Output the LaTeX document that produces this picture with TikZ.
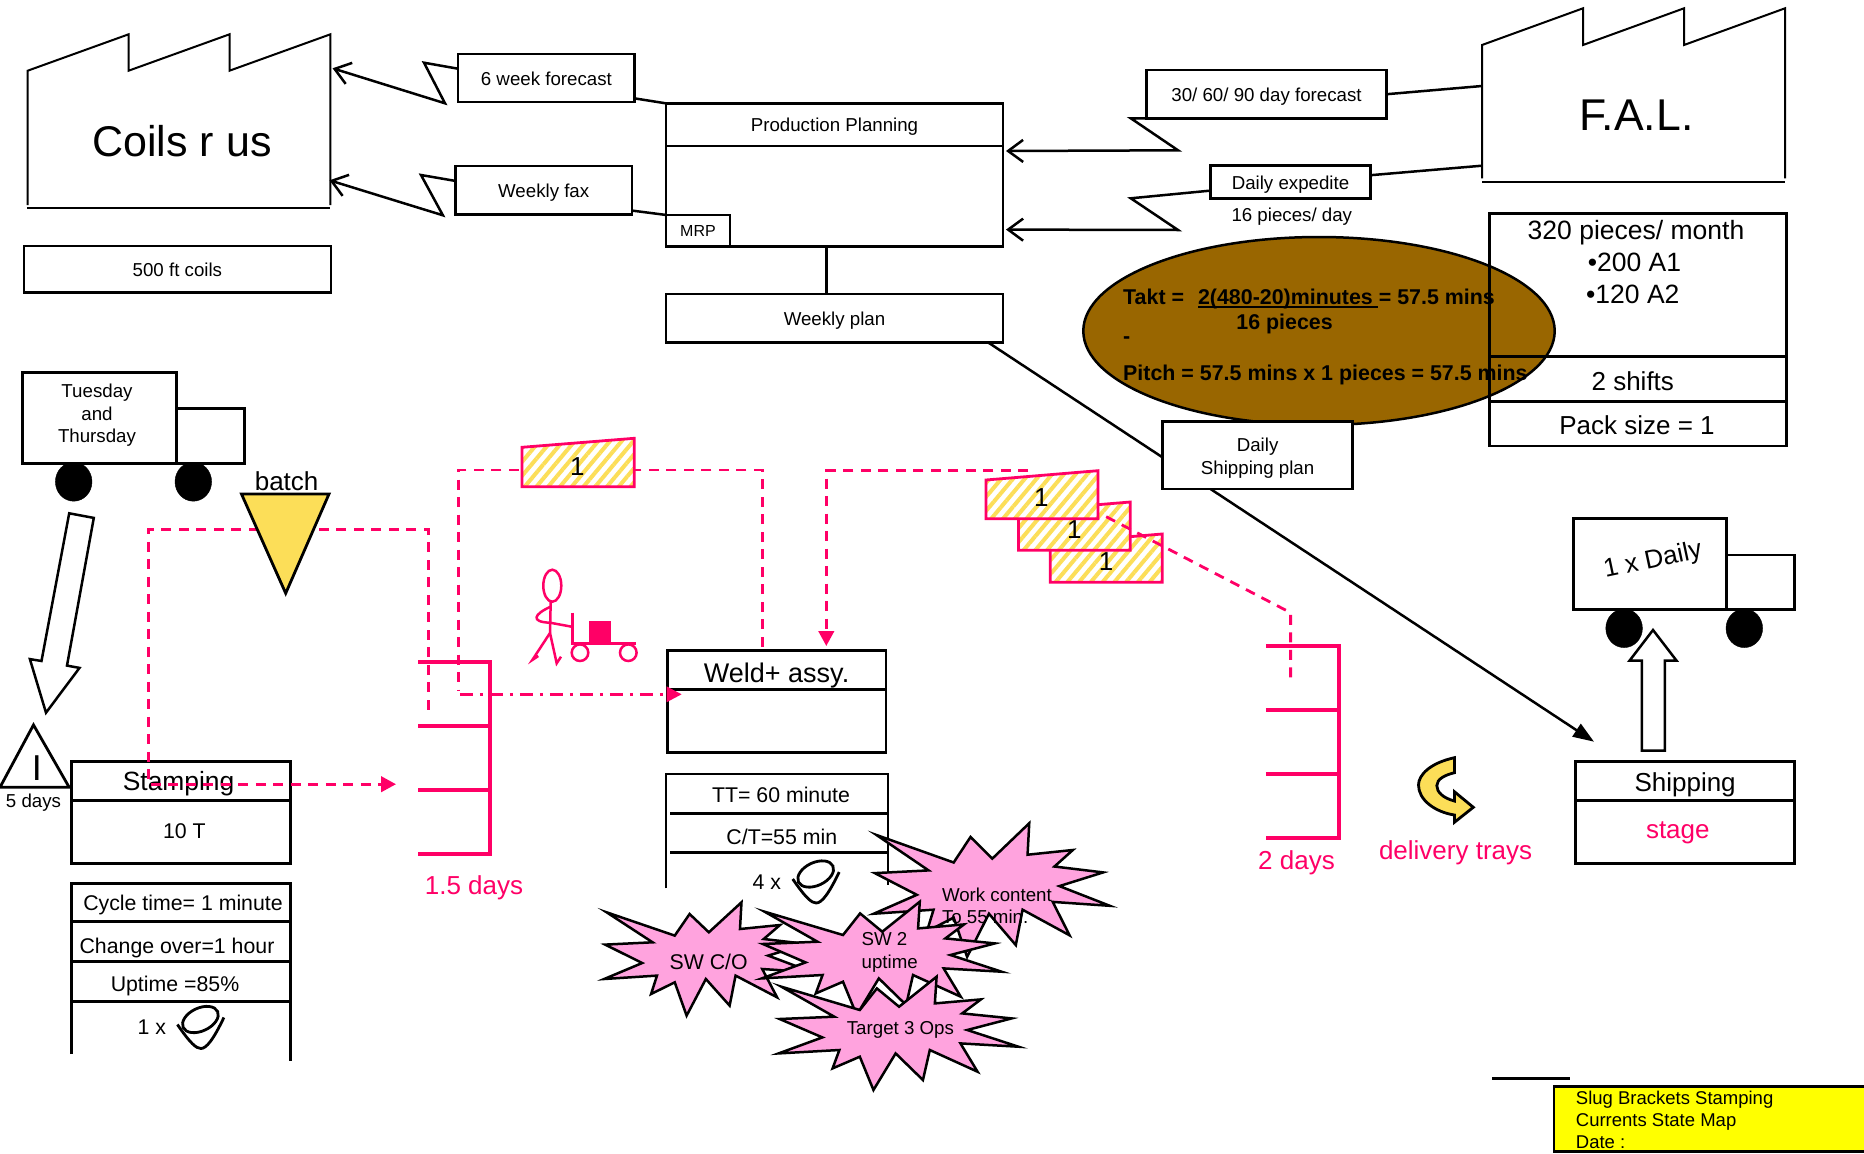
\documentclass[tikz,border=0pt]{standalone}
\usepackage{fontspec}
\setmainfont{Liberation Sans}
\usepackage{xcolor}
\usetikzlibrary{arrows.meta, positioning, patterns.meta, shapes.geometric}
\definecolor{flowpink}{RGB}{255,0,102}
\definecolor{traygold}{RGB}{252,222,88}
\definecolor{burstfill}{RGB}{255,163,222}
\definecolor{taktbrown}{RGB}{153,102,0}
\definecolor{titlefill}{RGB}{255,255,0}
\newcommand{\burstpath}{(0,0) -- (55.4,30) -- (-1.8,32.3) -- (42.9,50.7) -- (-2.9,66.7) -- (60.7,63.3) -- (53.6,81.7) -- (82.1,70) -- (96.4,103.3) -- (119.6,66.7) -- (148.2,93.3) -- (155.4,63.3) -- (205.4,85) -- (187.5,56.7) -- (248.2,60) -- (194.6,43.3) -- (241.1,31.7) -- (189.3,26.7) -- (208.9,12.7) -- (160.7,16.7) -- (162.5,-10) -- (123.2,20) -- (100,1.7) -- (82.1,23.3) -- cycle}
\tikzset{
    block/.style={
        rectangle,
        draw=black,
        line width=2.8pt,
        inner sep=0pt,
        outer sep=0pt,
        align=center,
        text height=14pt,
        text depth=0pt,
        font=\fontsize{18.7}{22.6}\selectfont
    },
    bigblock/.style={
        block,
        text height=20pt,
        font=\fontsize{26}{30}\selectfont
    },
    smalltext/.style={
        inner sep=0pt,
        align=center,
        font=\fontsize{18.7}{22.4}\selectfont
    },
    midtext/.style={
        inner sep=0pt,
        align=center,
        font=\fontsize{21.3}{25}\selectfont
    },
    bigtext/.style={
        inner sep=0pt,
        align=center,
        font=\fontsize{26}{30}\selectfont
    },
    pinktext/.style={
        bigtext,
        text=flowpink
    },
    hugetext/.style={
        inner sep=0pt,
        font=\fontsize{43}{48}\selectfont
    },
    takttext/.style={
        inner sep=0pt,
        anchor=west,
        font=\fontsize{21.4}{25}\selectfont\bfseries
    },
    outline/.style={
        draw=black,
        line width=2.8pt
    },
    factory/.style={
        draw=black,
        line width=2pt
    },
    connection/.style={
        draw=black,
        line width=2.5pt,
        -{Straight Barb[length=15pt,width=22pt,line width=2.5pt]}
    },
    plainline/.style={
        draw=black,
        line width=2.5pt
    },
    shipline/.style={
        draw=black,
        line width=2.5pt,
        -{Triangle[length=21pt,width=15pt]}
    },
    signal/.style={
        draw=flowpink,
        line width=2.8pt,
        dash pattern=on 10pt off 7.5pt
    },
    withdraw/.style={
        signal,
        -{Triangle[length=15pt,width=15.5pt]}
    },
    pushline/.style={
        draw=flowpink,
        line width=2.8pt,
        dash pattern=on 13pt off 7pt on 3pt off 7pt,
        -{Triangle[length=15pt,width=15pt]}
    },
    buffer/.style={
        draw=flowpink,
        line width=4.5pt
    },
    kanban/.style={
        draw=flowpink,
        line width=2.8pt,
        preaction={fill=white},
        pattern={Lines[angle=50,distance=9pt,line width=4pt]},
        pattern color=traygold
    },
    burst/.style={
        draw=black,
        line width=2.5pt,
        fill=burstfill,
        line join=miter
    },
    fatarrow/.style={
        draw=black,
        line width=2.5pt,
        fill=white
    },
    wheel/.style={
        fill=black
    },
    figure/.style={
        draw=flowpink,
        line width=2.5pt
    },
    operator/.pic={
        \draw[outline] (0,0) ellipse [x radius=19pt, y radius=11.5pt, rotate=25];
        \draw[outline] (-23,5) .. controls (-10,24) and (-4,29) .. (0.5,29) .. controls (6,29) and (13,20) .. (23.5,-2);
    }
}

\begin{document}
\begin{tikzpicture}[x=1pt, y=-1pt]
\useasboundingbox (0,0) rectangle (1864,1154);

% Takt bubble
\node[ellipse, draw=black, line width=2.5pt, fill=taktbrown, minimum width=471.4, minimum height=188, inner sep=0pt] (takt) at (1319,331) {};

% Suppliers and customers
\draw[factory] (27.7,205) -- (27.7,70.7) -- (128.6,34.3) -- (128.6,70.7) -- (229.5,34.3) -- (229.5,70.7) -- (330.4,34.3) -- (330.4,205);
\draw[factory] (26.8,208) -- (330.4,208);
\node[hugetext] (coils) at (182,141) {Coils r us};
\draw[factory] (1482,178.3) -- (1482,45) -- (1583,8.3) -- (1583,45) -- (1684,8.3) -- (1684,45) -- (1785,8.3) -- (1785,178.3);
\draw[factory] (1482,182.3) -- (1785,182.3);
\node[hugetext, font=\fontsize{44.5}{50}\selectfont] (fal) at (1636.5,115) {F.A.L.};
\coordinate (coils_fc) at (332.6,68.3);
\coordinate (coils_fax) at (329.5,180.3);
\coordinate (fal_fc) at (1482,86);
\coordinate (fal_exp) at (1482,165.7);

% Info boxes
\node[block, minimum width=307, minimum height=46.7] (coil_size) at (177.4,269.3) {500 ft coils};
\node[block, minimum width=296.5, minimum height=143.4] (month_box) at (1638,285) {};
\node[bigblock, minimum width=296.5, minimum height=45, below=0pt of month_box] (shift_box) {};
\node[bigblock, minimum width=296.5, minimum height=44.3, below=0pt of shift_box] (pack_box) {};
\node[bigtext, font=\fontsize{26.5}{30}\selectfont] (month_txt) at (1636,233) {320 pieces/ month};
\node[bigtext, font=\fontsize{26.5}{30}\selectfont] (a1_txt) at (1634.4,262) {•200 A1};
\node[bigtext, font=\fontsize{26.5}{30}\selectfont] (a2_txt) at (1632.8,294.5) {•120 A2};
\node[bigtext] (shift_txt) at (1632.8,381) {2 shifts};
\node[bigtext] (pack_txt) at (1637,425) {Pack size = 1};

% Takt text
\node[takttext] (takt_line) at (1123,299) {Takt =\hspace{14pt}\rlap{\rule[-3pt]{180pt}{1.8pt}}2(480-20)minutes\ = 57.5 mins};
\node[takttext, anchor=center] (takt_under) at (1284.6,324.4) {16 pieces};
\node[takttext, anchor=center] (takt_dash) at (1126.7,340.5) {-};
\node[takttext] (pitch_line) at (1123,375) {Pitch = 57.5 mins x 1 pieces = 57.5 mins};

% Planning
\node[block, minimum width=337, minimum height=42.7] (prod_head) at (834.5,124.7) {Production Planning};
\node[block, minimum width=337, minimum height=100.5, below=0pt of prod_head] (prod_body) {};
\node[block, text height=11.5pt, font=\fontsize{16}{19}\selectfont, minimum width=64, minimum height=31.7] (mrp) at (698,230.8) {MRP};
\node[block, minimum width=337, minimum height=48.3] (weekly_plan) at (834.5,318.2) {Weekly plan};
\node[block, minimum width=176.8, minimum height=48] (six_week) at (546.4,78) {6 week forecast};
\node[block, minimum width=176.6, minimum height=48.3] (weekly_fax) at (543.7,190.2) {Weekly fax};
\node[block, minimum width=240.5, minimum height=48.3] (forecast) at (1266.5,94.2) {30/ 60/ 90 day forecast};
\node[block, minimum width=160.5, minimum height=33] (expedite) at (1290.5,182.2) {Daily expedite};
\node[smalltext] (pieces_day) at (1291.8,216.5) {16 pieces/ day};
\coordinate (prod_fc) at (1006,151);
\coordinate (prod_exp) at (1006,229.6);
\coordinate (ship_in) at (1594,741.7);

% Planning connections
\draw[plainline] (six_week.-13) -- (prod_head.north west);
\draw[plainline] (weekly_fax.-13) -- (mrp.north west);
\draw[connection] (six_week.174) -- (424,62.7) -- (445,103.3) -- (coils_fc);
\draw[connection] (weekly_fax.174) -- (421,175) -- (442.9,215.3) -- (coils_fax);
\draw[plainline] (forecast.east) -- (fal_fc);
\draw[plainline] (expedite.5) -- (fal_exp);
\draw[connection] (forecast.south west) -- (1130.8,118.3) -- (1178,150.3) -- (prod_fc);
\draw[connection] (expedite.-174) -- (1130.8,198.3) -- (1178,230) -- (prod_exp);
\draw[plainline] ([xshift=-8pt]prod_body.south) -- ([xshift=-8pt]weekly_plan.north);
\draw[shipline] ([xshift=-15pt]weekly_plan.south east) -- (ship_in);
\node[block, fill=white, minimum width=189.8, minimum height=67.3] (ship_plan) at (1257.6,455.3) {};
\node[smalltext] (ship_plan_txt) at (1257.6,458) {Daily\\Shipping plan};

% Trucks
\node[block, minimum width=154, minimum height=91] (truck_in) at (99.3,417.8) {};
\node[smalltext] (truck_in_txt) at (97,415.4) {Tuesday\\and\\Thursday};
\node[block, minimum width=68.3, minimum height=54.6] (truck_in_cab) at (210.5,436) {};
\draw[wheel] (73.7,481.7) ellipse [x radius=18.3, y radius=19.5];
\draw[wheel] (193.3,481.7) ellipse [x radius=18.3, y radius=19.5];
\node[block, minimum width=153.2, minimum height=91] (truck_out) at (1650.1,563.8) {};
\node[block, minimum width=67.8, minimum height=54.3] (truck_out_cab) at (1760.6,582.2) {};
\node[bigtext, rotate=12] (truck_out_txt) at (1653,561) {1 x Daily};
\draw[wheel] (1624.1,628.3) ellipse [x radius=18.3, y radius=19.3];
\draw[wheel] (1744.3,628.3) ellipse [x radius=18.3, y radius=19.3];

% Process boxes
\node[bigblock, minimum width=218.8, minimum height=39.4] (stamp_head) at (180.8,781) {};
\node[midtext] (stamp_txt) at (178.6,783.8) {\fontsize{26.4}{30}\selectfont Stamping};
\node[block, minimum width=218.8, minimum height=62.7, below=0pt of stamp_head] (stamp_body) {};
\node[midtext] (stamp_ton) at (184.4,831.5) {10 T};
\node[bigblock, text height=25.4pt, font=\fontsize{27}{31}\selectfont, minimum width=218.7, minimum height=38.6] (weld_head) at (776.6,670) {Weld+ assy.};
\node[block, minimum width=218.7, minimum height=63.2, below=0pt of weld_head] (weld_body) {};
\node[bigblock, minimum width=218.6, minimum height=39] (ship_head) at (1685.1,781.2) {Shipping};
\node[block, minimum width=218.6, minimum height=62.6, below=0pt of ship_head] (ship_body) {};
\node[pinktext] (ship_stage) at (1677.8,832.5) {stage};

% Data boxes
\draw[outline] (71.4,1054) -- (71.4,883.3) -- (290.2,883.3) -- (290.2,1060.9);
\draw[outline] (71.4,921.6) -- (290.2,921.6);
\draw[outline] (71.4,961.4) -- (290.2,961.4);
\draw[outline] (71.4,1001.2) -- (290.2,1001.2);
\node[midtext] (cycle_txt) at (183,905) {Cycle time= 1 minute};
\node[midtext] (change_txt) at (177,947.5) {Change over=1 hour};
\node[midtext] (uptime_txt) at (175,985.5) {Uptime =85\%};
\node[midtext] (ops_stamp) at (151.8,1027) {1 x};
\pic at (200.4,1019.5) {operator};
\draw[outline] (666,888.3) -- (666,774) -- (887.9,774) -- (887.9,885);
\draw[outline] (670,813.3) -- (887.9,813.3);
\draw[outline] (670,852.3) -- (887.9,852.3);
\node[midtext] (takt_weld) at (781,795) {TT= 60 minute};
\node[midtext] (cycle_weld) at (781.8,836.7) {C/T=55 min};
\node[midtext] (ops_weld) at (766.8,881.7) {4 x};
\pic at (815.7,874) {operator};

% Inventory
\node[smalltext] (days_inv) at (33.5,802.6) {5 days};
\draw[outline, fill=white] (33.5,724.9) -- (69.2,787.3) -- (0,787.3) -- cycle;
\node[inner sep=0pt, font=\fontsize{36}{40}\selectfont] (inv_mark) at (37,767.8) {I};
\draw[buffer] (418.3,661.8) -| (490.2,853.9) -- (418.3,853.9);
\draw[buffer] (418.3,726) -- (490.2,726);
\draw[buffer] (418.3,790) -- (490.2,790);
\node[pinktext] (days_weld) at (474,887.7) {1.5 days};
\draw[buffer] (1265.9,646) -| (1339,838) -- (1265.9,838);
\draw[buffer] (1265.9,710) -- (1339,710);
\draw[buffer] (1265.9,774) -- (1339,774);
\node[pinktext] (days_ship) at (1296.5,862.9) {2 days};
\coordinate (buf1_mark) at (428.6,709.6);
\coordinate (buf1_in) at (396,784.2);
\coordinate (loop1_corner) at (148.2,529.7);
\coordinate (buf1_drop) at (458.5,690.5);
\coordinate (loop2_corner) at (458.5,470);
\coordinate (push_start) at (459.8,694.3);
\coordinate (weld_side) at (681.7,694.3);
\coordinate (weld_top) at (826.3,646);
\coordinate (tray_top) at (1028.4,470.7);
\coordinate (tray_low) at (1106.2,516.7);
\coordinate (loop3_corner) at (1290.6,612.7);
\coordinate (buf2_mark) at (1290.6,678.3);

% Kanban loops
\draw[withdraw] (buf1_mark) |- (loop1_corner) |- (buf1_in);
\draw[signal] ([shift={(-14.5pt,4pt)}]weld_head.north) |- (loop2_corner) -- (buf1_drop);
\draw[pushline] (push_start) -- (weld_side);
\draw[withdraw] (tray_top) -| (weld_top);

% Kanban cards
\draw[kanban] (522,447.3) -- (634.3,438.3) -- (634.3,486.7) -- (522,486.7) -- cycle;
\node[bigtext] (card_weld) at (577.3,467) {1};
\draw[kanban] (1050.2,543.3) -- (1162.2,534) -- (1162.2,582.3) -- (1050.2,582.3) -- cycle;
\node[bigtext] (card_c) at (1106.2,562) {1};
\draw[kanban] (1018.4,511.3) -- (1130.3,502) -- (1130.3,550.3) -- (1018.4,550.3) -- cycle;
\node[bigtext] (card_b) at (1074.4,530) {1};
\draw[kanban] (986,480) -- (1097.9,470.7) -- (1097.9,518.7) -- (986,518.7) -- cycle;
\node[bigtext] (card_a) at (1041.4,497.7) {1};
\draw[signal] (tray_low) -- (loop3_corner) -- (buf2_mark);

% Batch triangle
\draw[outline, fill=traygold] (241.5,494) -- (329,494) -- (285.7,593.3) -- cycle;
\node[bigtext] (batch) at (286.6,481.7) {batch};

% Shipment arrows
\draw[fatarrow] (69.2,513.3) -- (93.8,517.9) -- (67,665.6) -- (79.5,667.9) -- (46,712.7) -- (29.9,659.1) -- (41.5,661) -- cycle;
\draw[fatarrow] (1641.8,750.7) -- (1664.8,750.7) -- (1664.8,660.7) -- (1676.6,660.7) -- (1653,630) -- (1629.5,660.7) -- (1641.8,660.7) -- cycle;

% Operator with cart
\draw[figure] (552.3,585.7) ellipse [x radius=9, y radius=16];
\draw[figure] (550.7,601.7) -- (550,633);
\draw[figure] (550.7,606.7) .. controls (534,614) and (530,622) .. (550,622.7) -- (571.7,626.7);
\draw[figure] (550,633) -- (532.3,660) -- (538.3,656);
\draw[figure] (550,633) -- (556.7,663.3) -- (561,656.7);
\draw[figure] (572.3,612.7) -- (572.3,643.3) -- (636,643.3);
\fill[flowpink] (589,621) rectangle (610.7,643.3);
\draw[figure] (580,652.7) circle [radius=8.3];
\draw[figure] (628.3,652.7) circle [radius=8.3];

% Trays
\draw[outline, fill=traygold] (1454.4,757.7) .. controls (1430,763) and (1418.5,775) .. (1418.5,785) .. controls (1418.5,800) and (1435,812) .. (1454.4,815) -- (1454.4,822.3) -- (1473.3,807.3) -- (1454.4,791.7) -- (1454.4,801) .. controls (1443,798) and (1436.8,792) .. (1436.8,785.7) .. controls (1436.8,779) and (1445,775) .. (1454.4,772.7) -- cycle;
\node[pinktext] (tray_txt) at (1455.6,853.1) {delivery trays};

% Kaizen bursts
\draw[burst, shift={(876.5,835)}, xscale=0.94, yscale=1.18] \burstpath;
\draw[burst, shift={(606.6,912.3)}, xscale=0.83] \burstpath;
\draw[burst, shift={(764.6,911.7)}, xscale=0.955] \burstpath;
\draw[burst, shift={(781.4,986.7)}, xscale=0.955] \burstpath;
\node[midtext] (burst_sw) at (708.6,961.7) {SW C/O};
\node[smalltext, align=left, anchor=north west] (burst_work) at (941.8,887.5) {Work content\\To 55 min.};
\node[smalltext, align=left, anchor=north west] (burst_uptime) at (861.4,932.5) {SW 2\\uptime};
\node[smalltext] (burst_target) at (900.4,1029.5) {Target 3 Ops};

% Title block
\draw[plainline] (1492.3,1078.3) -- (1570,1078.3);
\node[draw=black, line width=2.8pt, fill=titlefill, minimum width=330, minimum height=65, inner sep=0pt, outer sep=0pt] (title_box) at (1719,1119.2) {};
\node[smalltext, font=\fontsize{18.5}{22}\selectfont, align=left, anchor=west] (title_txt) at (1575.7,1119.7) {Slug Brackets Stamping\\Currents State Map\\Date :};

\end{tikzpicture}
\end{document}
